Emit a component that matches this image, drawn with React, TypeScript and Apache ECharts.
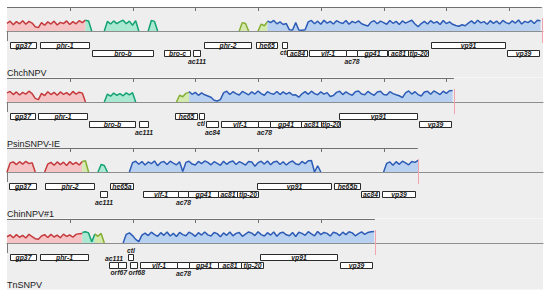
import React, { useEffect, useRef } from "react";
import * as echarts from "echarts";

// ---------- scale ----------
const XMAX = 85.4; // kb shown across the band
const STEP = 0.5; // kb between coverage samples
const TICK_INTERVAL = 10;

const panelNames = ["ChchNPV", "PsinSNPV-IE", "ChinNPV#1", "TnSNPV"];
const genomeLengths = [85.2, 71.2, 65.45, 58.6];

// ---------- coverage (0-100) ----------
// ChchNPV
const chchRed = [64, 82, 52, 78, 60, 86, 56, 80, 66, 36, 28, 70, 48, 76, 58, 82, 50, 72, 62, 84, 54, 78, 60, 86, 70, 90];
const chchTeal1 = [90, 84, 0];
const chchTeal2 = [0, 80, 58, 84, 62, 78, 90, 60, 82, 48, 86, 0];
const chchTeal3 = [0, 88, 80, 0];
const chchOlive1 = [0, 70, 62, 0];
const chchOlive2 = [0, 58, 44, 78];
const chchBlue = [
  84, 70, 88, 60, 76, 54, 62,
  10, 8, 70, 8, 6, 10,
  76, 88, 60, 82, 56, 90, 66, 80, 58, 86, 72, 62, 88, 56, 80, 68, 84, 60,
  50, 42, 74,
  86, 60, 82, 70, 56, 88, 64, 80, 54, 84, 66, 78, 90, 58,
  36, 62,
  80, 58, 86, 66, 78, 54, 88, 62, 76, 56,
  46, 40, 52, 44, 66,
  84, 62, 90, 68, 78, 56, 86, 64, 82, 58, 88, 70, 60, 84, 66, 92, 58, 80, 70, 88, 62, 90, 86,
];
// PsinSNPV-IE
const psinRed = [76, 88, 62, 84, 58, 80, 66, 90, 70, 30, 20, 72, 54, 86, 62, 80, 56, 84, 64, 78, 58, 88, 66, 82, 74, 0];
const psinTeal = [0, 66, 48, 74, 56, 70, 52, 76, 60, 78, 0];
const psinOlive = [0, 56, 44, 72, 80];
const psinBlue = [
  88, 64, 80, 56, 76, 60, 50, 40,
  14, 8, 20,
  76, 90, 62, 86, 70, 58, 88, 74, 60, 84, 66, 92, 70, 56, 86, 72, 64,
  88, 62, 84, 66, 80, 58, 60,
  40, 68,
  86, 64, 90, 70, 60, 84, 66, 78,
  46, 54,
  80, 90, 62, 84, 68, 56, 86, 92, 66, 60, 88, 70, 56, 84, 90, 62, 58, 86, 70, 60, 52,
  36,
  76, 92, 66, 86, 62, 50,
  84, 90, 64, 92, 78, 62, 90, 72, 94, 96,
];
// ChinNPV#1
const chinRed1 = [0, 76, 84, 62, 86, 66, 88, 70, 78, 0];
const chinRed2 = [0, 66, 80, 56, 84, 62, 82, 54, 86, 64, 80, 58, 88];
const chinOlive = [88, 94, 0];
const chinTeal = [0, 62, 54, 0];
const chinBlue1 = [
  0,
  78, 90, 64, 88, 58, 84, 70, 92, 52, 80, 88, 62, 90, 74, 60, 86,
  4,
  80, 90, 66, 58, 88, 70, 92, 80, 60, 86, 72, 56, 90, 64, 84, 92, 62, 86, 74, 58, 88, 84, 48, 78, 90, 66, 92, 60, 84,
  90, 62, 86, 58, 80, 92, 68, 60, 88, 70, 94, 96,
  0, 52, 0,
];
const chinBlue2 = [0, 72, 84, 56, 86, 64, 90, 76, 60, 88, 80, 96];
// TnSNPV
const tnRed = [52, 68, 44, 70, 48, 64, 42, 72, 54, 36, 32, 58, 70, 46, 72, 50, 66, 44, 74, 54, 68, 48, 72, 78, 80];
const tnTeal = [88, 94, 84, 10, 74];
const tnOlive = [76, 56, 80, 0];
const tnBlue = [
  0,
  72, 84, 62, 30,
  12, 66,
  82, 62, 90, 70, 56, 86, 64, 92, 58, 80,
  54, 88, 70, 60, 90, 76, 56, 86, 66, 92,
  68, 58, 88, 78, 52, 84, 64, 92, 60, 80,
  88, 56, 74, 92, 82, 62, 94, 70, 58, 86,
  66, 92, 56, 84, 90, 68, 60, 88, 54, 90,
  80, 64, 94, 76, 60, 96, 70, 88, 80, 58,
  90, 82, 62, 90, 70, 94, 84, 60, 78, 92,
  72, 88, 94, 96,
];

type Seg = { kind: string; start: number; values: number[] };
const chchSegments: Seg[] = [
  { kind: "red", start: 0, values: chchRed },
  { kind: "teal", start: 12.5, values: chchTeal1 },
  { kind: "teal", start: 15.5, values: chchTeal2 },
  { kind: "teal", start: 22.5, values: chchTeal3 },
  { kind: "olive", start: 37, values: chchOlive1 },
  { kind: "olive", start: 40, values: chchOlive2 },
  { kind: "blue", start: 41.5, values: chchBlue },
];
const psinSegments: Seg[] = [
  { kind: "red", start: 0, values: psinRed },
  { kind: "teal", start: 15.5, values: psinTeal },
  { kind: "olive", start: 27, values: psinOlive },
  { kind: "blue", start: 29, values: psinBlue },
];
const chinSegments: Seg[] = [
  { kind: "red", start: 0, values: chinRed1 },
  { kind: "red", start: 6, values: chinRed2 },
  { kind: "olive", start: 12, values: chinOlive },
  { kind: "teal", start: 14.5, values: chinTeal },
  { kind: "blue", start: 19.5, values: chinBlue1 },
  { kind: "blue", start: 60, values: chinBlue2 },
];
const tnSegments: Seg[] = [
  { kind: "red", start: 0, values: tnRed },
  { kind: "teal", start: 12, values: tnTeal },
  { kind: "olive", start: 14, values: tnOlive },
  { kind: "blue", start: 18.5, values: tnBlue },
];

// ---------- genes: [name, start kb, end kb, row, label mode] ----------
type Gene = [string, number, number, number, string];
const chchGenes: Gene[] = [
  ["gp37", 0.48, 4.57, 0, "in"],
  ["phr-1", 5.26, 13.07, 0, "in"],
  ["bro-b", 13.54, 23.22, 1, "in"],
  ["bro-c", 25.02, 29.16, 1, "in"],
  ["ac111", 29.59, 30.75, 1, "below"],
  ["phr-2", 31.39, 38.83, 0, "in"],
  ["he65", 39.63, 43.02, 0, "in"],
  ["ctl", 43.77, 44.57, 0, "belowR"],
  ["ac84", 44.61, 47.8, 1, "in"],
  ["vlf-1", 48.12, 54.02, 1, "in"],
  ["ac78", 54.02, 55.82, 1, "below"],
  ["gp41", 55.82, 60.5, 1, "in"],
  ["ac81", 60.71, 63.89, 1, "in"],
  ["tlp-20", 63.89, 67.08, 1, "in"],
  ["vp91", 67.51, 79.35, 0, "in"],
  ["vp39", 79.67, 84.82, 1, "in"],
];
const psinGenes: Gene[] = [
  ["gp37", 0.48, 4.46, 0, "in"],
  ["phr-1", 4.99, 12.79, 0, "in"],
  ["bro-b", 13.11, 20.4, 1, "in"],
  ["ac111", 21.08, 22.51, 1, "below"],
  ["he65", 26.77, 30.32, 0, "in"],
  ["ctl", 30.64, 31.39, 0, "belowR"],
  ["ac84", 31.71, 33.67, 1, "below"],
  ["vlf-1", 34.05, 40.04, 1, "in"],
  ["ac78", 40.04, 41.91, 1, "below"],
  ["gp41", 41.91, 46.84, 1, "in"],
  ["ac81", 46.84, 50.03, 1, "in"],
  ["tlp-20", 50.03, 53.06, 1, "in"],
  ["vp91", 52.9, 65.28, 0, "in"],
  ["vp39", 65.7, 70.75, 1, "in"],
];
const chinGenes: Gene[] = [
  ["gp37", 0.37, 4.62, 0, "in"],
  ["phr-2", 6.05, 13.86, 0, "in"],
  ["ac111", 14.82, 15.98, 1, "below"],
  ["he65a", 16.41, 20.12, 0, "in"],
  ["vlf-1", 21.62, 27.2, 1, "in"],
  ["ac78", 27.2, 28.89, 1, "below"],
  ["gp41", 28.89, 33.67, 1, "in"],
  ["ac81", 33.67, 36.7, 1, "in"],
  ["tlp-20", 36.7, 39.95, 1, "in"],
  ["vp91", 39.79, 51.63, 0, "in"],
  ["he65b", 52.15, 56.25, 0, "in"],
  ["ac84", 56.41, 59.32, 1, "in"],
  ["vp39", 59.7, 65.01, 1, "in"],
];
const tnGenes: Gene[] = [
  ["gp37", 0.48, 4.62, 0, "in"],
  ["phr-1", 5.26, 12.86, 0, "in"],
  ["ac111", 16.3, 17.73, 1, "above"],
  ["orf67", 17.73, 18.96, 1, "belowR"],
  ["ctl", 19.33, 20.12, 0, "above"],
  ["orf68", 19.6, 20.67, 1, "belowL"],
  ["vlf-1", 21.19, 27.04, 1, "in"],
  ["ac78", 27.04, 29.05, 1, "below"],
  ["gp41", 29.05, 33.67, 1, "in"],
  ["ac81", 33.67, 37.24, 1, "in"],
  ["tlp-20", 37.24, 40.84, 1, "in"],
  ["vp91", 40.31, 52.63, 0, "in"],
  ["vp39", 53.06, 58.2, 1, "in"],
];

const panelSegments = [chchSegments, psinSegments, chinSegments, tnSegments];
const panelGenes = [chchGenes, psinGenes, chinGenes, tnGenes];

// ---------- styles ----------
const COLORS: Record<string, { line: string; fill: string }> = {
  red: { line: "#c53a3d", fill: "#f5c3c4" },
  teal: { line: "#13a274", fill: "#a9e9d2" },
  olive: { line: "#84ae33", fill: "#d3e9ad" },
  blue: { line: "#2d5cb7", fill: "#b9d1f0" },
};
const FIRST_AXIS_Y = 7;
const PANEL_PITCH = 70.5;
const BAND_LEFT = 7;
const BAND_WIDTH = 536;
const GENE_FONT = 'italic bold 6.8px "Liberation Sans", Arial, sans-serif';
const TEXT_DARK = "#1a1a1a";

const crisp = (v: number) => Math.round(v) + 0.5;

const textStyle = (text: string, font: string, align: string) => ({
  text,
  font,
  fill: TEXT_DARK,
  textFill: TEXT_DARK,
  stroke: "none",
  lineWidth: 0,
  textStroke: "none",
  textStrokeWidth: 0,
  align,
  textAlign: align,
  verticalAlign: "middle",
  textVerticalAlign: "middle",
});

function buildOption() {
  const grid: any[] = [];
  const xAxis: any[] = [];
  const yAxis: any[] = [];
  const series: any[] = [];
  const graphic: any[] = [];

  panelNames.forEach((name, i) => {
    const A = Math.round(FIRST_AXIS_Y + i * PANEL_PITCH);
    grid.push({ left: BAND_LEFT, top: A + 12, width: BAND_WIDTH, height: 12, show: false });
    xAxis.push({
      gridIndex: i,
      type: "value",
      min: 0,
      max: XMAX,
      axisLine: { show: true, lineStyle: { color: "#8e8e8e", width: 1 } },
      axisTick: { show: false },
      axisLabel: { show: false },
      splitLine: { show: false },
    });
    yAxis.push({ gridIndex: i, type: "value", min: 0, max: 100, show: false });

    graphic.push({
      type: "rect",
      z: -10,
      shape: { x: BAND_LEFT, y: A, width: BAND_WIDTH, height: PANEL_PITCH },
      style: { fill: "#eeeeee" },
      silent: true,
    });
    graphic.push({
      type: "text",
      x: BAND_LEFT,
      y: A + 65.5,
      style: textStyle(name, '9px "Liberation Sans", Arial, sans-serif', "left"),
    });

    panelSegments[i].forEach((seg) => {
      const c = COLORS[seg.kind];
      series.push({
        type: "line",
        xAxisIndex: i,
        yAxisIndex: i,
        data: seg.values.map((v, k) => [seg.start + k * STEP, v]),
        symbol: "none",
        smooth: false,
        silent: true,
        lineStyle: { color: c.line, width: 1.5 },
        areaStyle: { color: c.fill, opacity: 1 },
        z: 2,
      });
    });

    // axis line, ticks, start / end markers
    series.push({
      type: "custom",
      xAxisIndex: i,
      yAxisIndex: i,
      clip: false,
      silent: true,
      z: 5,
      data: [[genomeLengths[i], 0]],
      renderItem: (params: any, api: any) => {
        const len = api.value(0);
        const s = api.coord([0, 0]);
        const e = api.coord([len, 0]);
        const yb = s[1];
        const ya = crisp(yb - 24);
        const ch: any[] = [
          { type: "line", shape: { x1: s[0], y1: ya, x2: e[0], y2: ya }, style: { stroke: "#707070", lineWidth: 1 } },
        ];
        for (let t = TICK_INTERVAL; t < len; t += TICK_INTERVAL) {
          const x = crisp(api.coord([t, 0])[0]);
          ch.push({ type: "line", shape: { x1: x, y1: ya, x2: x, y2: ya + 3.5 }, style: { stroke: "#707070", lineWidth: 1 } });
        }
        const x0 = crisp(s[0]);
        ch.push({ type: "line", shape: { x1: x0, y1: yb, x2: x0, y2: yb + 10 }, style: { stroke: "#7a7a7a", lineWidth: 1 } });
        const xe = crisp(e[0]);
        ch.push({ type: "line", shape: { x1: xe, y1: yb - 13, x2: xe, y2: yb + 12 }, style: { stroke: "#f2a3ad", lineWidth: 1 } });
        return { type: "group", children: ch };
      },
    });

    // genes
    const genes = panelGenes[i];
    series.push({
      type: "custom",
      xAxisIndex: i,
      yAxisIndex: i,
      clip: false,
      silent: true,
      z: 6,
      data: genes.map((g) => [g[1], g[2]]),
      encode: { x: [0, 1] },
      renderItem: (params: any, api: any) => {
        const g = genes[params.dataIndex];
        const p1 = api.coord([g[1], 0]);
        const p2 = api.coord([g[2], 0]);
        const yb = p1[1];
        const top = Math.round(yb + 11 + g[3] * 7.5) + 0.5;
        const h = 6;
        const x1 = crisp(p1[0]);
        const x2 = crisp(p2[0]);
        const ch: any[] = [
          { type: "rect", shape: { x: x1, y: top, width: x2 - x1, height: h }, style: { fill: "#ffffff", stroke: "#2a2a2a", lineWidth: 1 } },
        ];
        let tx = (x1 + x2) / 2;
        let ty = top + h / 2 + 0.3;
        let align = "center";
        if (g[4] === "below") ty = top + h + 4.5;
        else if (g[4] === "above") ty = top - 4.5;
        else if (g[4] === "belowR") {
          ty = top + h + 4;
          tx = x2 + 0.5;
          align = "right";
        } else if (g[4] === "belowL") {
          ty = top + h + 4;
          tx = x1 - 2;
          align = "left";
        }
        ch.push({ type: "text", x: tx, y: ty, style: textStyle(g[0], GENE_FONT, align) });
        return { type: "group", children: ch };
      },
    });
  });

  return { animation: false, grid, xAxis, yAxis, series, graphic };
}

export default function App() {
  const ref = useRef<HTMLDivElement>(null);
  useEffect(() => {
    if (!ref.current) return;
    const chart = echarts.init(ref.current, undefined, { renderer: "svg" });
    chart.setOption(buildOption() as any);
    return () => chart.dispose();
  }, []);
  return (
    <div
      ref={ref}
      style={{ position: "fixed", left: 0, top: 0, width: 550, height: 294, background: "#ffffff" }}
    />
  );
}
